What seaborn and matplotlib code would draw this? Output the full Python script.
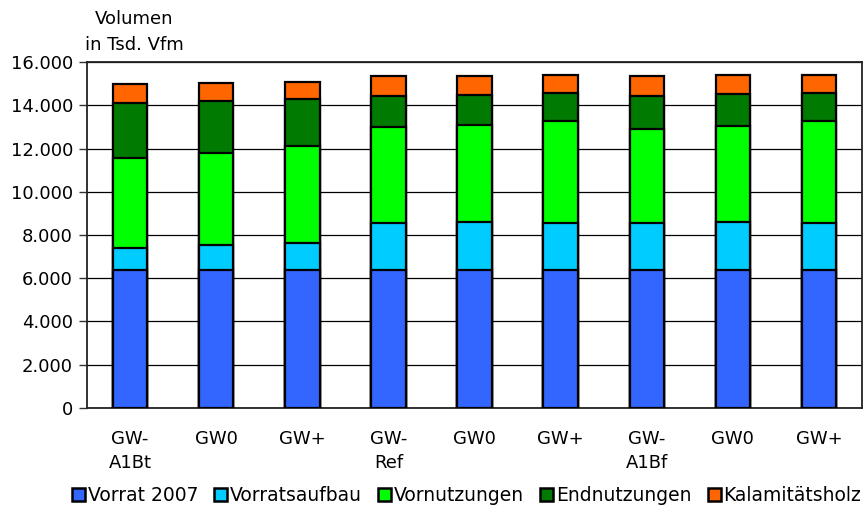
"""Stacked volume bars per climate scenario."""

import matplotlib
matplotlib.use("Agg")
import matplotlib.pyplot as plt
from matplotlib.patches import Patch
import numpy as np
import pandas as pd
import seaborn as sns

# x tick labels (scenario groups repeat GW-/GW0/GW+)
labels = ["GW-\nA1Bt", "GW0", "GW+", "GW-\nRef", "GW0", "GW+", "GW-\nA1Bf", "GW0", "GW+"]

# values in Tsd. Vfm
vorrat_2007 = [6400, 6400, 6400, 6400, 6400, 6400, 6400, 6400, 6400]
vorratsaufbau = [1000, 1120, 1250, 2160, 2190, 2160, 2150, 2180, 2150]
vornutzungen = [4150, 4260, 4460, 4420, 4490, 4730, 4370, 4480, 4710]
endnutzungen = [2580, 2440, 2210, 1470, 1420, 1300, 1540, 1480, 1330]
kalamitaetsholz = [870, 800, 770, 930, 880, 830, 910, 870, 830]

series = ["Vorrat 2007", "Vorratsaufbau", "Vornutzungen", "Endnutzungen", "Kalamitätsholz"]
colors = ["#3366FF", "#00CCFF", "#00FF00", "#007A00", "#FF6600"]

df = pd.DataFrame({
    "pos": range(len(labels)),
    "Vorrat 2007": vorrat_2007,
    "Vorratsaufbau": vorratsaufbau,
    "Vornutzungen": vornutzungen,
    "Endnutzungen": endnutzungen,
    "Kalamitätsholz": kalamitaetsholz,
})
cum = df[series].cumsum(axis=1)
cum["pos"] = df["pos"]

sns.set_style("white")
plt.rcParams["font.family"] = ["DejaVu Sans"]
plt.rcParams["font.size"] = 13
plt.rcParams["text.color"] = "black"
plt.rcParams["xtick.color"] = "black"
plt.rcParams["ytick.color"] = "black"

fig = plt.figure(figsize=(8.68, 5.07), dpi=100)
ax = fig.add_axes([87 / 868, 1 - 407.7 / 507, (862 - 87) / 868, (407.7 - 62.3) / 507])

# draw cumulative totals from the top layer down so each hides the one behind
for name, col in reversed(list(zip(series, colors))):
    sns.barplot(data=cum, x="pos", y=name, color=col, saturation=1,
                width=0.40, edgecolor="black", linewidth=1.6, ax=ax, zorder=3)

ax.set_ylim(0, 16000)
ax.set_xlim(-0.5, len(labels) - 0.5)
ax.set_yticks(np.arange(0, 16001, 2000))
ax.set_yticklabels([f"{v:,.0f}".replace(",", ".") for v in np.arange(0, 16001, 2000)])
ax.yaxis.grid(True, color="black", linewidth=0.9, zorder=0)
ax.set_axisbelow(True)

ax.set_xticks(range(len(labels)))
ax.set_xticklabels(labels, linespacing=1.45)
ax.set_xticks(np.arange(-0.5, len(labels)), minor=True)
ax.tick_params(axis="x", which="major", length=0, pad=16)
ax.tick_params(axis="x", which="minor", length=5, width=1, direction="out", color="#333333")
ax.tick_params(axis="y", length=6, width=1, direction="out", color="#333333", pad=4, left=True)
ax.set_xlabel("")
ax.set_ylabel("")
for s in ax.spines.values():
    s.set_color("#222222")
    s.set_linewidth(1.3)

fig.text(134 / 868, 1 - 32 / 507, "Volumen\nin Tsd. Vfm", ha="center", va="center",
         linespacing=1.5)

handles = [Patch(facecolor=c, edgecolor="black", linewidth=1.8) for c in colors]
fig.legend(handles, series, loc="center", bbox_to_anchor=(0.5375, 0.022), ncol=5,
           frameon=False, fontsize=13.5, handlelength=0.7, handleheight=0.7,
           handletextpad=0.15, columnspacing=0.85, borderaxespad=0)

fig.savefig("out.png", dpi=100)
